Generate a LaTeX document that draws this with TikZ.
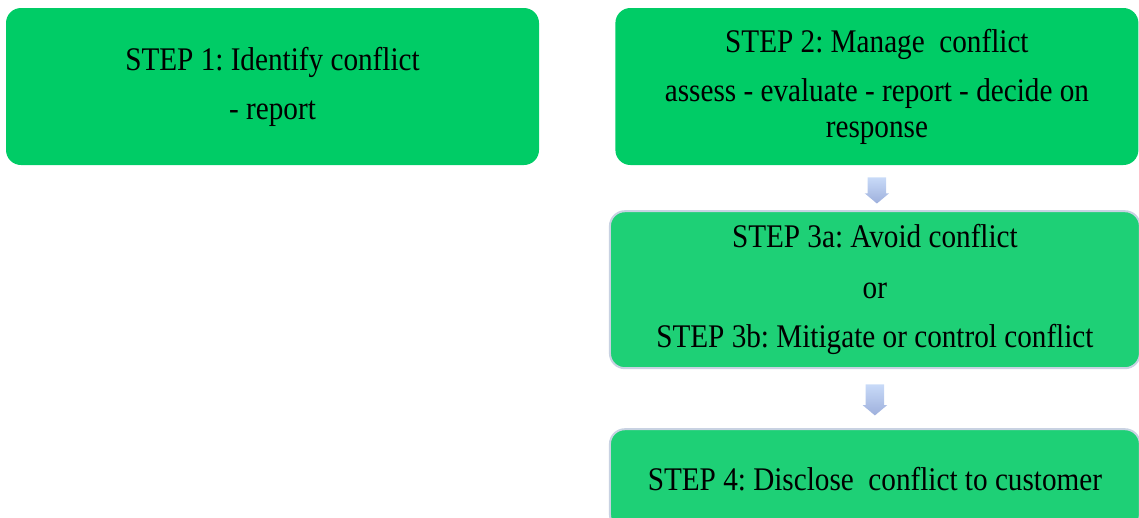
\documentclass[tikz,border=0pt]{standalone}
\usepackage{fontspec}
\setmainfont{Liberation Serif}[FakeStretch=0.885]
\usetikzlibrary{positioning,shapes.arrows}
\frenchspacing

\definecolor{stepgreen}{RGB}{0,204,102}
\definecolor{steplight}{RGB}{30,208,118}
\definecolor{stepedge}{RGB}{200,210,226}
\definecolor{arrowtop}{RGB}{200,218,248}
\definecolor{arrowbot}{RGB}{158,176,220}

\begin{document}
\begin{tikzpicture}[x=1pt, y=1pt,
    stepbox/.style={fill=stepgreen, rounded corners=15pt, inner sep=0pt,
      minimum height=157pt, align=center,
      font=\fontsize{33}{36}\selectfont},
    steplite/.style={stepbox, fill=steplight, draw=stepedge, line width=2pt},
    downarrow/.style={single arrow, shape border rotate=270, inner sep=9pt,
      minimum width=24pt, single arrow head extend=3pt,
      single arrow tip angle=100, top color=arrowtop, bottom color=arrowbot,
      draw=none}]
  \path[use as bounding box, clip] (0,0) rectangle (1139,-517);

  \node[stepbox, minimum width=533pt] (S1) at (272.5,-86.5)
    {STEP 1: Identify conflict\\[13pt] - report};
  \node[stepbox, minimum width=523pt] (S2) [right=76pt of S1]
    {STEP 2: Manage\ \ conflict\\[13pt] assess - evaluate - report - decide on\\ response};
  \node[steplite, minimum width=530pt] (S3) [below=45pt of S2, xshift=-2pt]
    {STEP 3a: Avoid conflict\\[15pt] or\\[13pt] STEP 3b: Mitigate or control conflict};
  \node[steplite, minimum width=530pt, minimum height=100pt] (S4) [below=59pt of S3]
    {STEP 4: Disclose\ \ conflict to customer};

  \node[downarrow, minimum height=22pt] (A1) [below=12pt of S2] {};
  \node[downarrow, minimum height=31pt] (A2) [below=15pt of S3] {};
\end{tikzpicture}
\end{document}
